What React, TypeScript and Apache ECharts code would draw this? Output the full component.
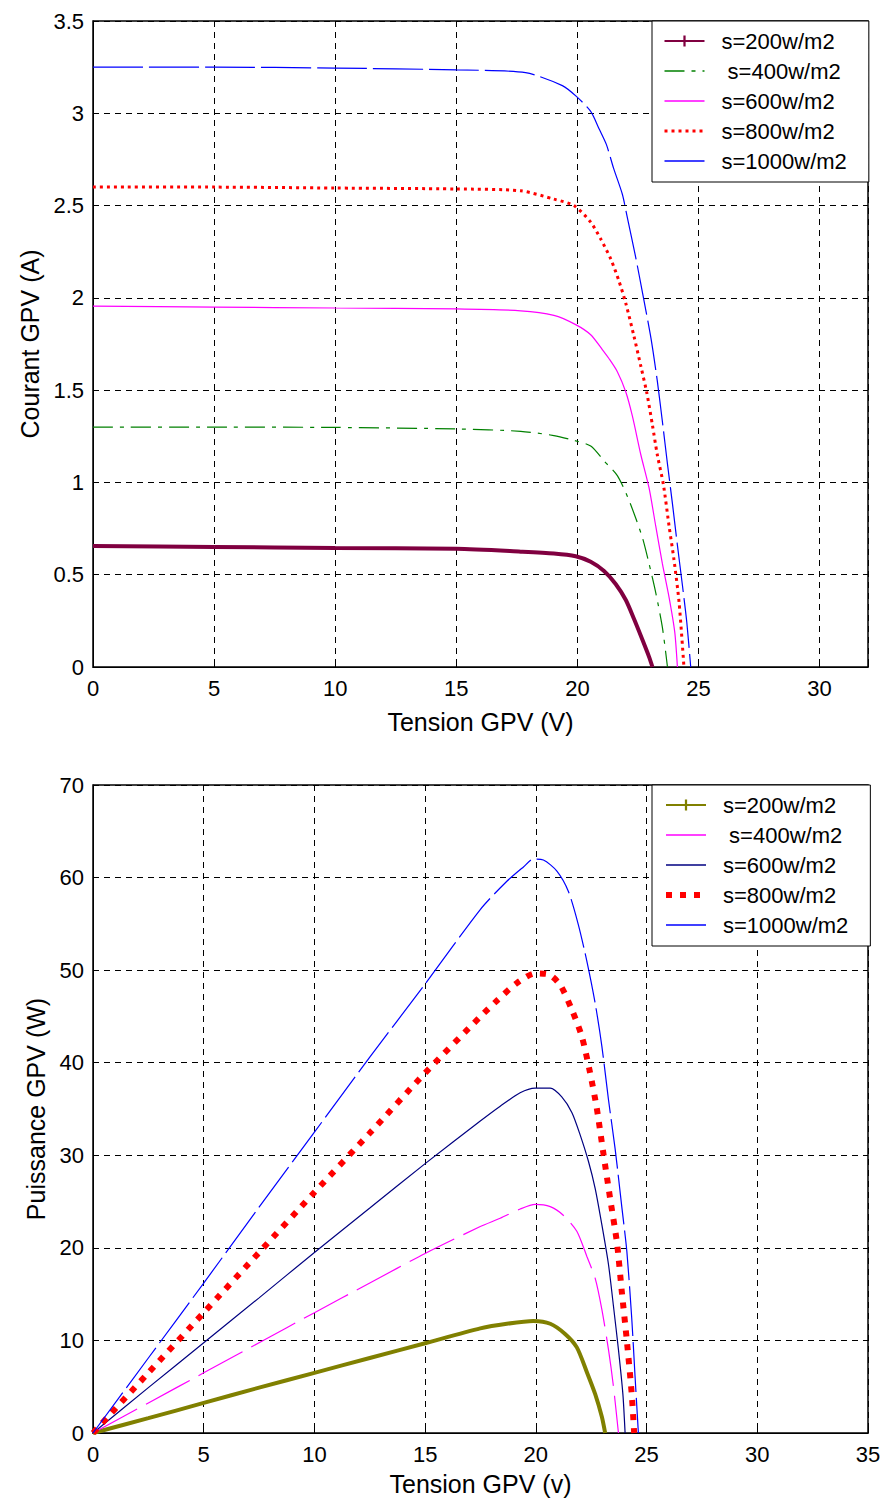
import React, { useEffect, useRef } from 'react';
import * as echarts from 'echarts';

const FONT = "'Liberation Sans', Arial, Helvetica, sans-serif";

// Legend labels (same for both panels)
const legendLabels = ['s=200w/m2', '\u00a0s=400w/m2', 's=600w/m2', 's=800w/m2', 's=1000w/m2'];

// Axis ranges
const ivXRange = [0, 32, 5];
const ivYRange = [0, 3.5, 0.5];
const pvXRange = [0, 35, 5];
const pvYRange = [0, 70, 10];

// ---- I-V curves (Tension V, Courant A) ----
const ivV200 = [0, 5, 10, 15, 17.66, 19.03, 19.93, 20.55, 21.1, 21.58, 22.0, 22.34, 22.69, 22.96, 23.1];
const ivI200 = [0.655, 0.65, 0.645, 0.64, 0.625, 0.615, 0.6, 0.57, 0.52, 0.45, 0.363, 0.26, 0.146, 0.055, 0];

const ivV400 = [0, 5, 10, 15, 17.66, 19.03, 19.79, 20.55, 21.1, 21.65, 22.07, 22.4, 22.7, 22.96, 23.24, 23.51, 23.72];
const ivI400 = [1.3, 1.3, 1.298, 1.29, 1.277, 1.254, 1.23, 1.197, 1.117, 1.037, 0.923, 0.81, 0.695, 0.56, 0.4, 0.215, 0];

const ivV600 = [0, 5, 10, 15, 17.66, 19.03, 19.93, 20.55, 21.03, 21.31, 21.65, 22.0, 22.27, 22.62, 22.96, 23.24, 23.51, 23.79, 24.02, 24.13];
const ivI600 = [1.955, 1.95, 1.945, 1.94, 1.93, 1.905, 1.855, 1.8, 1.72, 1.67, 1.6, 1.49, 1.36, 1.15, 0.97, 0.76, 0.56, 0.375, 0.19, 0];

const ivV800 = [0, 5, 10, 15, 17.66, 19.03, 19.86, 20.55, 20.96, 21.38, 21.72, 22.0, 22.34, 22.62, 22.86, 23.1, 23.3, 23.55, 23.79, 23.99, 24.2, 24.4];
const ivI800 = [2.6, 2.6, 2.595, 2.59, 2.58, 2.535, 2.5, 2.41, 2.32, 2.21, 2.09, 1.97, 1.79, 1.63, 1.49, 1.31, 1.15, 0.99, 0.76, 0.58, 0.35, 0];

const ivV1000 = [0, 5, 10, 15, 17.86, 19.38, 19.97, 20.55, 20.9, 21.2, 21.5, 21.86, 22.07, 22.4, 22.7, 23.04, 23.3, 23.51, 23.72, 23.93, 24.13, 24.34, 24.52, 24.68];
const ivI1000 = [3.25, 3.25, 3.245, 3.235, 3.22, 3.15, 3.09, 3.01, 2.915, 2.83, 2.7, 2.56, 2.43, 2.225, 2.02, 1.78, 1.55, 1.33, 1.1, 0.88, 0.66, 0.44, 0.24, 0];

// ---- P-V curves (Tension V, Puissance W) ----
const pvV200 = [0, 2.5, 5, 7.5, 10, 12.5, 15, 17.49, 18.69, 19.89, 20.65, 21.32, 21.85, 22.3, 22.68, 22.98, 23.13];
const pvP200 = [0, 1.6, 3.25, 4.9, 6.5, 8.1, 9.7, 11.3, 11.8, 12.1, 11.8, 10.7, 9.25, 6.6, 4.2, 1.75, 0];

const pvV400 = [0, 2.5, 5, 7.5, 10, 12.5, 15, 17.49, 18.39, 19.29, 19.97, 20.65, 21.25, 21.85, 22.3, 22.68, 22.98, 23.28, 23.5, 23.73];
const pvP400 = [0, 3.25, 6.5, 9.75, 13.0, 16.2, 19.4, 22.3, 23.2, 24.2, 24.7, 24.45, 23.5, 21.8, 19.1, 16.7, 13.35, 9.0, 5.1, 0];

const pvV600 = [0, 2.5, 5, 7.5, 10, 12.5, 15, 17.49, 18.39, 19.29, 19.97, 20.65, 21.17, 21.63, 22.0, 22.38, 22.68, 22.98, 23.28, 23.5, 23.73, 23.93, 24.03];
const pvP600 = [0, 4.9, 9.75, 14.6, 19.5, 24.3, 29.1, 33.7, 35.3, 36.75, 37.25, 37.25, 36.3, 34.6, 32.2, 29.3, 26.4, 22.5, 18.2, 13.8, 9.0, 4.2, 0];

const pvV800 = [0, 2.5, 5, 7.5, 10, 12.5, 15, 17.49, 18.24, 19.14, 19.97, 20.57, 21.1, 21.63, 22.08, 22.45, 22.75, 23.05, 23.35, 23.66, 23.88, 24.11, 24.33, 24.44];
const pvP800 = [0, 6.5, 13.0, 19.5, 26.0, 32.4, 38.9, 44.97, 46.7, 48.6, 49.65, 49.55, 48.4, 45.7, 42.8, 38.9, 35.1, 30.2, 25.4, 20.6, 15.3, 9.96, 4.2, 0];

const pvV1000 = [0, 2.5, 5, 7.5, 10, 12.5, 15, 17.49, 18.69, 19.44, 19.89, 20.34, 20.95, 21.47, 21.92, 22.3, 22.68, 22.98, 23.28, 23.58, 23.88, 24.11, 24.33, 24.48, 24.63];
const pvP1000 = [0, 8.1, 16.2, 24.4, 32.5, 40.6, 48.5, 56.55, 59.6, 61.15, 62.0, 61.9, 60.7, 58.5, 54.9, 51.0, 46.4, 41.8, 36.0, 30.7, 24.45, 19.6, 12.4, 6.1, 0];

const PLUS = 'path://M4,0H6V10H4Z M0,4H10V6H0Z';

type Sty = { color: string; width: number; type: any; legendWidth: number; plus?: boolean };

const ivStyles: Sty[] = [
  { color: '#800040', width: 4, type: 'solid', legendWidth: 2, plus: true },
  { color: '#008000', width: 1.2, type: [20, 7, 4, 7], legendWidth: 1.5 },
  { color: '#ff00ff', width: 1.2, type: 'solid', legendWidth: 1.5 },
  { color: '#ff0000', width: 3, type: [3, 4], legendWidth: 3 },
  { color: '#0000ff', width: 1.2, type: [50, 6], legendWidth: 1.5 },
];
const pvStyles: Sty[] = [
  { color: '#808000', width: 4, type: 'solid', legendWidth: 2, plus: true },
  { color: '#ff00ff', width: 1.2, type: [50, 10], legendWidth: 1.5 },
  { color: '#000080', width: 1.2, type: 'solid', legendWidth: 1.5 },
  { color: '#ff0000', width: 6, type: [6, 8], legendWidth: 6 },
  { color: '#0000ff', width: 1.2, type: [50, 6], legendWidth: 1.5 },
];

const ivData = [[ivV200, ivI200], [ivV400, ivI400], [ivV600, ivI600], [ivV800, ivI800], [ivV1000, ivI1000]];
const pvData = [[pvV200, pvP200], [pvV400, pvP400], [pvV600, pvP600], [pvV800, pvP800], [pvV1000, pvP1000]];

function makeSeries(prefix: string, data: number[][][], styles: Sty[], gi: number) {
  return data.map(([xs, ys], k) => ({
    type: 'line',
    name: prefix + '|' + legendLabels[k],
    xAxisIndex: gi,
    yAxisIndex: gi,
    data: xs.map((x, i) => [x, ys[i]]),
    symbol: styles[k].plus ? PLUS : 'none',
    showSymbol: false,
    smooth: 0.25,
    silent: true,
    color: styles[k].color,
    itemStyle: { color: styles[k].color },
    lineStyle: { color: styles[k].color, width: styles[k].width, type: styles[k].type },
  }));
}

function makeLegend(prefix: string, styles: Sty[], top: number) {
  return {
    orient: 'vertical',
    left: 652,
    top,
    itemWidth: 40,
    itemHeight: 14,
    itemGap: 8,
    padding: [9, 22, 10, 11],
    backgroundColor: '#fff',
    borderColor: '#000',
    borderWidth: 1,
    selectedMode: false,
    formatter: (n: string) => n.split('|')[1],
    textStyle: { fontSize: 22, color: '#000', fontFamily: FONT, padding: [0, 0, 0, 12] },
    data: legendLabels.map((l, k) => ({
      name: prefix + '|' + l,
      itemStyle: styles[k].plus ? { borderWidth: 0 } : { opacity: 0, borderWidth: 0 },
      lineStyle: { width: styles[k].legendWidth },
    })),
  };
}

function xAxis(gi: number, range: number[], name: string, gap: number) {
  return {
    gridIndex: gi,
    type: 'value',
    min: range[0],
    max: range[1],
    interval: range[2],
    name,
    nameLocation: 'middle',
    nameGap: gap,
    nameTextStyle: { fontSize: 25, color: '#000', fontFamily: FONT },
    axisLine: { lineStyle: { color: '#000', width: 1 } },
    axisTick: { inside: true, length: 5, lineStyle: { color: '#000' } },
    axisLabel: {
      fontSize: 22,
      color: '#000',
      fontFamily: FONT,
      margin: 10,
      formatter: (v: number) => (Math.abs(v % range[2]) < 1e-9 ? String(v) : ''),
    },
    splitLine: { show: true, lineStyle: { color: '#000', type: [6, 5], width: 1 } },
  };
}

function yAxis(gi: number, range: number[], name: string, gap: number) {
  return {
    gridIndex: gi,
    type: 'value',
    min: range[0],
    max: range[1],
    interval: range[2],
    name,
    nameLocation: 'middle',
    nameGap: gap,
    nameTextStyle: { fontSize: 25, color: '#000', fontFamily: FONT },
    axisLine: { lineStyle: { color: '#000', width: 1 } },
    axisTick: { inside: true, length: 5, lineStyle: { color: '#000' } },
    axisLabel: { fontSize: 22, color: '#000', fontFamily: FONT, margin: 9 },
    splitLine: { show: true, lineStyle: { color: '#000', type: [6, 5], width: 1 } },
  };
}

export default function App() {
  const ref = useRef<HTMLDivElement>(null);
  useEffect(() => {
    document.body.style.margin = '0';
    if (!ref.current) return;
    const chart = echarts.init(ref.current, undefined, { renderer: 'svg' });
    chart.setOption({
      animation: false,
      backgroundColor: '#fff',
      grid: [
        { left: 93, top: 21, width: 775, height: 646, show: true, borderColor: '#000', borderWidth: 1.5 },
        { left: 93, top: 785, width: 775, height: 648, show: true, borderColor: '#000', borderWidth: 1.5 },
      ],
      xAxis: [xAxis(0, ivXRange, 'Tension GPV (V)', 42), xAxis(1, pvXRange, 'Tension GPV (v)', 38)],
      yAxis: [yAxis(0, ivYRange, 'Courant GPV (A)', 47), yAxis(1, pvYRange, 'Puissance GPV (W)', 44)],
      legend: [makeLegend('iv', ivStyles, 21), makeLegend('pv', pvStyles, 785)],
      series: [...makeSeries('iv', ivData, ivStyles, 0), ...makeSeries('pv', pvData, pvStyles, 1)],
    });
    return () => chart.dispose();
  }, []);
  return <div ref={ref} style={{ width: 884, height: 1508 }} />;
}
